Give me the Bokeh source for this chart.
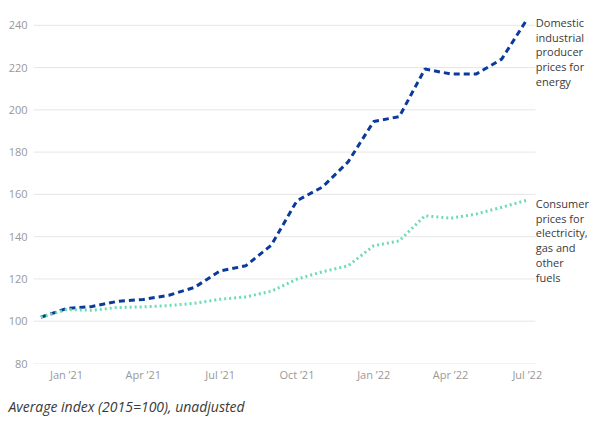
from bokeh.plotting import figure
from bokeh.models import Range1d, FixedTicker, Label, Title
from bokeh.embed import file_html
from bokeh.resources import INLINE

months = ["Dec 2020", "Jan 2021", "Feb 2021", "Mar 2021", "Apr 2021", "May 2021",
          "Jun 2021", "Jul 2021", "Aug 2021", "Sep 2021", "Oct 2021", "Nov 2021",
          "Dec 2021", "Jan 2022", "Feb 2022", "Mar 2022", "Apr 2022", "May 2022",
          "Jun 2022", "Jul 2022"]
producer = [101.9, 106.0, 107.0, 109.4, 110.3, 112.3, 116.0, 123.8, 126.2, 136.0,
            157.0, 163.5, 175.4, 194.5, 196.8, 219.3, 217.0, 216.9, 224.0, 243.0]
consumer = [101.9, 105.5, 105.2, 106.5, 106.8, 107.4, 108.5, 110.4, 111.5, 114.2,
            119.9, 123.4, 126.2, 135.7, 138.0, 149.9, 148.7, 150.7, 153.9, 157.3]
tick_positions = [1, 4, 7, 10, 13, 16, 19]
tick_labels = ["Jan \u201921", "Apr \u201921", "Jul \u201921", "Oct \u201921",
               "Jan \u201922", "Apr \u201922", "Jul \u201922"]
y_ticks = [80, 100, 120, 140, 160, 180, 200, 220, 240]
producer_label = "Domestic\nindustrial\nproducer\nprices for\nenergy"
consumer_label = "Consumer\nprices for\nelectricity,\ngas and\nother\nfuels"
caption = "Average index (2015=100), unadjusted"

x = list(range(len(months)))

FONT = "Open Sans"
X_START, GRID_END, X_END = -0.29, 19.32, 21.86
p = figure(width=600, height=426, output_backend="svg", toolbar_location=None,
           x_range=Range1d(X_START, X_END), y_range=Range1d(80, 247),
           min_border_left=33, min_border_right=0, min_border_top=10,
           min_border_bottom=63)
p.outline_line_color = None
p.background_fill_color = "white"

# horizontal grid lines (ending before the label column)
p.segment(x0=[X_START] * len(y_ticks), x1=[GRID_END] * len(y_ticks),
          y0=y_ticks, y1=y_ticks, line_color="#e6e6e6", line_width=1)

p.line(x, producer, line_color="#0a3a9c", line_width=3, line_dash="6 4")
p.line(x, consumer, line_color="#6cdcb6", line_width=3, line_dash="2 3")

# axes
p.xaxis.ticker = FixedTicker(ticks=tick_positions)
p.xaxis.major_label_overrides = {t: l for t, l in zip(tick_positions, tick_labels)}
p.yaxis.ticker = FixedTicker(ticks=y_ticks)
for ax in (p.xaxis, p.yaxis):
    ax.major_tick_line_color = None
    ax.minor_tick_line_color = None
    ax.major_tick_out = 0
    ax.major_tick_in = 0
    ax.minor_tick_out = 0
    ax.major_label_text_color = "#999999"
    ax.major_label_text_font = FONT
    ax.major_label_text_font_size = "11px"
    ax.axis_line_color = None
p.yaxis.major_label_standoff = 6
p.xaxis.major_label_standoff = 3
p.xgrid.grid_line_color = None
p.ygrid.grid_line_color = None

# end labels
p.add_layout(Label(x=x[-1], y=producer[-1], text=producer_label, x_offset=8.5, y_offset=4,
                   text_font=FONT, text_font_size="11px", text_color="#3a3a3a",
                   text_baseline="top", text_line_height=0.98))
p.add_layout(Label(x=x[-1], y=consumer[-1], text=consumer_label, x_offset=8.5, y_offset=4,
                   text_font=FONT, text_font_size="11px", text_color="#3a3a3a",
                   text_baseline="top", text_line_height=0.98))

p.add_layout(Title(text=caption, text_font=FONT, text_font_size="14px",
                   text_font_style="italic", text_color="#3a3a3a", align="left",
                   offset=-25, standoff=21), "below")

open("out.html", "w").write(file_html(p, INLINE))
